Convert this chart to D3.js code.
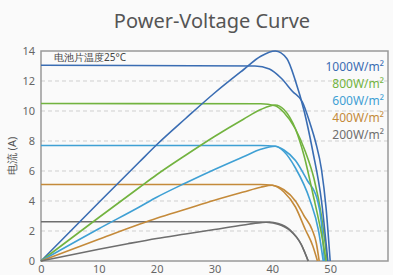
<!doctype html>
<html>
<head>
<meta charset="utf-8">
<style>
  body { margin: 0; background-color: #fafafa; }
  text { font-family: "Noto Sans", sans-serif; }
</style>
</head>
<body>
<script src="https://cdn.jsdelivr.net/npm/d3@7"></script>
<script>
  var width = 393,
      height = 275;

  var xTicks = [0, 10, 20, 30, 40, 50];
  var yTicks = [0, 2, 4, 6, 8, 10, 12, 14];
  var irradiance = ['1000W/m²', '800W/m²', '600W/m²', '400W/m²', '200W/m²'];
  var colours = ['#3a6db3', '#72b33f', '#3fa0d4', '#c48a3a', '#6e6e6e'];

  // current-voltage curves, [V, A]
  var iv1000 = [[0,13.05],[37,13.0],[39.5,12.8],[41.5,12.2],[43.5,11.3],[45.2,10.6],[46.5,9.2],[47.5,7.9],[48.5,6.1],[49.3,3.5],[50,0]];
  var iv800  = [[0,10.5],[38,10.48],[40.5,10.35],[42,9.9],[44,8.8],[45.7,7.3],[47.2,5.5],[48.5,3.0],[49.5,0]];
  var iv600  = [[0,7.7],[38,7.7],[40.5,7.65],[42,7.4],[44,6.7],[46,5.4],[47.8,4.07],[48.5,2.5],[49,0]];
  var iv400  = [[0,5.1],[38,5.1],[40,5.05],[42,4.75],[44,4.0],[45.5,3.0],[46.9,2.07],[47.6,1.2],[48.1,0]];
  var iv200  = [[0,2.62],[36,2.62],[39,2.58],[41,2.45],[43,2.05],[45,1.1],[46.2,0]];

  // power-voltage curves (scaled to the same axis)
  var pv1000 = [[0,0],[10,3.9],[17,6.6],[20,7.75],[25,9.5],[30,11.2],[35,12.75],[38,13.65],[40.5,14.0],[42.5,13.5],[44,12.0],[45.5,10.0],[47,7.3],[48.5,4.0],[49.6,0]];
  var pv800  = [[0,0],[10,2.9],[17,4.9],[20,5.75],[25,7.05],[30,8.3],[35,9.45],[38,10.1],[40.5,10.4],[42,10.1],[44,8.8],[45.5,7.0],[47,4.5],[48.5,1.8],[49.3,0]];
  var pv600  = [[0,0],[10,2.15],[17,3.6],[20,4.25],[25,5.2],[30,6.1],[35,6.95],[38,7.45],[40.5,7.65],[42,7.3],[44,6.2],[46.5,4.07],[48,2.0],[48.8,0]];
  var pv400  = [[0,0],[10,1.45],[17,2.45],[20,2.85],[25,3.45],[30,4.05],[35,4.6],[38,4.92],[40,5.05],[42,4.6],[44,3.6],[45.7,2.1],[47,1.0],[47.8,0]];
  var pv200  = [[0,0],[10,0.78],[15,1.15],[20,1.5],[25,1.8],[30,2.1],[35,2.4],[38,2.56],[39.5,2.6],[41,2.5],[43,2.1],[45,1.1],[46.2,0]];

  var ivCurves = [iv1000, iv800, iv600, iv400, iv200];
  var pvCurves = [pv1000, pv800, pv600, pv400, pv200];

  var svg = d3.select('body').append('svg')
      .attr('width', width)
      .attr('height', height);

  svg.append('rect').attr('width', width).attr('height', height).attr('fill', '#fafafa');

  var x = d3.scaleLinear().domain([0, 60]).range([41, 388]);
  var y = d3.scaleLinear().domain([0, 14]).range([261, 51]);

  svg.append('text')
      .attr('x', 212).attr('y', 28)
      .attr('text-anchor', 'middle')
      .attr('font-size', 20)
      .attr('fill', '#555')
      .text('Power-Voltage Curve');

  // dashed grid
  svg.selectAll('.grid')
      .data(yTicks.filter(function (d) { return d > 0 && d < 14; }))
    .enter().append('line')
      .attr('x1', x(0)).attr('x2', x(60))
      .attr('y1', function (d) { return y(d); })
      .attr('y2', function (d) { return y(d); })
      .attr('stroke', '#cfcfcf')
      .attr('stroke-dasharray', '4,3');

  // frame
  svg.append('rect')
      .attr('x', x(0)).attr('y', y(14))
      .attr('width', x(60) - x(0)).attr('height', y(0) - y(14))
      .attr('fill', 'none')
      .attr('stroke', '#999')
      .attr('stroke-width', 1.5);

  var xAxis = svg.append('g')
      .attr('transform', 'translate(0,' + y(0) + ')')
      .call(d3.axisBottom(x).tickValues(xTicks).tickSize(0).tickPadding(4));
  var yAxis = svg.append('g')
      .attr('transform', 'translate(' + x(0) + ',0)')
      .call(d3.axisLeft(y).tickValues(yTicks).tickSize(0).tickPadding(6));
  [xAxis, yAxis].forEach(function (a) {
    a.select('.domain').remove();
    a.selectAll('text').attr('fill', '#666').attr('font-size', 11)
        .attr('font-family', '"DejaVu Sans Condensed", "Noto Sans", sans-serif');
  });

  svg.append('text')
      .attr('transform', 'translate(16,' + y(7) + ') rotate(-90)')
      .attr('text-anchor', 'middle')
      .attr('font-size', 11)
      .attr('fill', '#555')
      .text('电流 (A)');

  svg.append('text')
      .attr('x', 54).attr('y', 61)
      .attr('font-size', 10)
      .attr('fill', '#444')
      .text('电池片温度25°C');

  var line = d3.line()
      .x(function (d) { return x(d[0]); })
      .y(function (d) { return y(d[1]); })
      .curve(d3.curveMonotoneX);

  var all = [];
  ivCurves.forEach(function (c, i) { all.push({pts: c, col: colours[i]}); });
  pvCurves.forEach(function (c, i) { all.push({pts: c, col: colours[i]}); });

  svg.selectAll('.curve')
      .data(all)
    .enter().append('path')
      .attr('d', function (d) { return line(d.pts); })
      .attr('fill', 'none')
      .attr('stroke', function (d) { return d.col; })
      .attr('stroke-width', 1.6);

  svg.selectAll('.legend')
      .data(irradiance)
    .enter().append('text')
      .attr('x', 384)
      .attr('y', function (d, i) { return 71 + i * 17; })
      .attr('text-anchor', 'end')
      .attr('font-size', 12)
      .attr('fill', function (d, i) { return colours[i]; })
      .text(function (d) { return d; });
</script>
</body>
</html>
